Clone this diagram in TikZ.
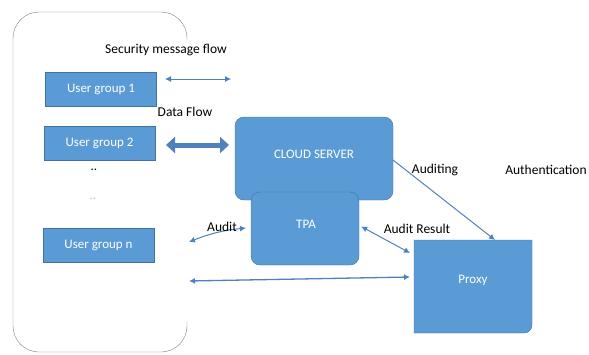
\documentclass[tikz,border=0pt]{standalone}
\usepackage{fontspec}
\setmainfont{Carlito}
\usepackage{xcolor}
\usetikzlibrary{arrows.meta}
\definecolor{boxblue}{HTML}{5B9BD5}
\definecolor{boxedge}{HTML}{41719C}
\definecolor{arrowblue}{HTML}{4F81BD}
\tikzset{
  group/.style={draw=boxedge,fill=boxblue,text=white,minimum width=111pt,minimum height=34pt,font=\fontsize{13}{15}\selectfont},
  server/.style={draw=boxedge,fill=boxblue,text=white,rounded corners=9pt},
  flow/.style={draw=arrowblue,line width=1pt,{Latex[length=6pt,width=6pt]}-{Latex[length=6pt,width=6pt]}},
  lbl/.style={font=\fontsize{13.5}{15}\selectfont}
}
\begin{document}
\begin{tikzpicture}[x=1pt,y=-1pt]
      \useasboundingbox (0,0) rectangle (589,354);
      % users area
      \draw[gray,thin,rounded corners=26pt] (187,322) -- (187,352) -- (13,352) -- (13,12)
        -- (187,12) -- (187,40);
      \node[group] (g1) at (101,89.5) {User group 1};
      \node[group] (g2) at (99.5,143) {User group 2};
      \node[group] (gn) at (98.5,245.5) {User group n};
      \node[font=\fontsize{13}{15}\selectfont] (dots1) at (94,170) {..};
      \node[gray!50,font=\fontsize{13}{15}\selectfont] (dots2) at (93,199) {..};
      % servers
      \node[server,minimum width=158pt,minimum height=83pt] (cloud) at (314,158.5) {};
      \node[text=white,font=\fontsize{13}{15}\selectfont] at (314,154) {CLOUD SERVER};
      \node[server,minimum width=108pt,minimum height=73pt] (tpa) at (305,228.5) {};
      \node[text=white,font=\fontsize{13}{15}\selectfont] at (306,224) {TPA};
      \draw[draw=boxedge,fill=boxblue] (414,240) -- (532,240) -- (532,325)
        arc[start angle=0,end angle=90,radius=8] -- (414,333) -- cycle;
      \node[text=white,font=\fontsize{13}{15}\selectfont] (proxy) at (473,280) {Proxy};
      \coordinate (proxyin) at (495,240);
      \coordinate (proxyl) at (410,277);
      \coordinate (proxyt) at (410,253);
      % connectors
      \coordinate (s1) at (165,79);
      \coordinate (s2) at (231,79);
      \draw[flow,line width=0.8pt] (s1) -- (s2);
      \coordinate (d1) at (166,145);
      \coordinate (d2) at (229,145);
      \draw[draw=arrowblue,line width=5pt,{Triangle[length=9pt,width=16pt]}-{Triangle[length=9pt,width=16pt]}] (d1) -- (d2);
      \coordinate (a1) at (189,242);
      \coordinate (a2) at (246,228);
      \draw[flow] (a1) to[bend left=8] (a2);
      \coordinate (u1) at (189,281);
      \draw[flow,line width=1.3pt] (u1) -- (proxyl);
      \draw[flow] (tpa.east) ++(2,-2) coordinate (t1) -- (proxyt);
      \draw[draw=arrowblue,line width=1pt,-{Latex[length=6pt,width=6pt]}] (393,160) coordinate (c1) -- (proxyin);
      % labels
      \node[font=\fontsize{13.5}{15}\selectfont] at (166,50) {Security message flow};
      \node[lbl] at (185,112) {Data Flow};
      \node[lbl] at (222,227) {Audit};
      \node[lbl] at (417,229) {Audit Result};
      \node[lbl] at (435,170) {Auditing};
      \node[lbl] at (546,170) {Authentication};
    \end{tikzpicture}
\end{document}
